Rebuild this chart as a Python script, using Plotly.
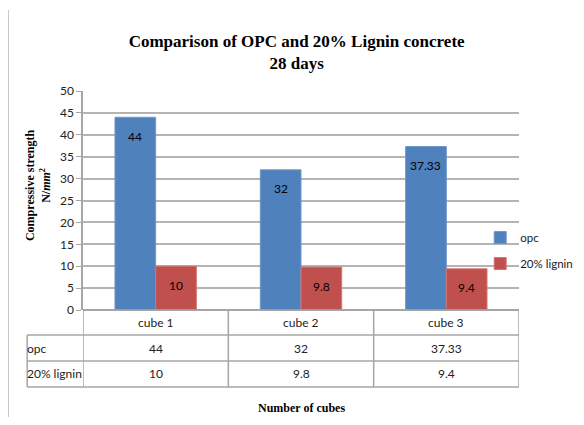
import plotly.graph_objects as go

categories = ["cube 1", "cube 2", "cube 3"]
opc = [44, 32, 37.33]
lignin = [10, 9.8, 9.4]
series_names = ["opc", "20% lignin"]
y_ticks = [0, 5, 10, 15, 20, 25, 30, 35, 40, 45, 50]

SANS = "Lato, sans-serif"
SERIF = "Liberation Serif, Times New Roman, serif"
GRID = "#b4b4b4"
TABLE = "#a6a6a6"
TXT = "#222222"

fig = go.Figure()
fig.add_trace(go.Bar(x=categories, y=opc, name=series_names[0],
                     marker=dict(color="#4f81bd", line=dict(color="#6f97cc", width=1)),
                     legendgroup="a"))
fig.add_trace(go.Bar(x=categories, y=lignin, name=series_names[1],
                     marker=dict(color="#c0504d", line=dict(color="#d27572", width=1)),
                     legendgroup="b"))

annotations = []
# value labels just below the top of each bar
for vals, shift in [(opc, -20.5), (lignin, 20.5)]:
    for c, v in zip(categories, vals):
        annotations.append(dict(x=c, y=v, xref="x", yref="y", text=f"{v:g}", showarrow=False,
                                xshift=shift, yshift=-19, yanchor="middle",
                                font=dict(family=SANS, size=12, color="black")))

# data table under the plot (rows: header, opc, 20% lignin)
row_y = [-0.057, -0.174, -0.292]
row_edges = [0, -0.114, -0.233, -0.352]
label_left = -0.128

for i, c in enumerate(categories):
    for yy, txt in [(row_y[0], c), (row_y[1], f"{opc[i]:g}"), (row_y[2], f"{lignin[i]:g}")]:
        annotations.append(dict(x=c, y=yy, xref="x", yref="paper", text=txt, showarrow=False,
                                yanchor="middle", font=dict(family=SANS, size=12, color=TXT)))
for name, yy in zip(series_names, row_y[1:]):
    annotations.append(dict(x=label_left - 0.004, y=yy, xref="paper", yref="paper", text=name,
                            xanchor="left", yanchor="middle", showarrow=False,
                            font=dict(family=SANS, size=12, color=TXT)))
annotations.append(dict(x=0.5, y=-0.447, xref="paper", yref="paper", text="<b>Number of cubes</b>",
                        showarrow=False, yanchor="middle",
                        font=dict(family=SERIF, size=12, color="black")))
annotations.append(dict(x=-0.103, y=0.571, xref="paper", yref="paper", textangle=-90,
                        text="<b>Compressive strength</b><br><b>N/<i>mm</i><sup>2</sup></b>",
                        showarrow=False, xanchor="center", yanchor="middle",
                        font=dict(family=SERIF, size=12, color="black")))

shapes = []
# horizontal table lines
for k, yy in enumerate(row_edges):
    x0 = 0 if k == 0 else label_left
    shapes.append(dict(type="line", xref="paper", yref="paper", x0=x0, x1=1, y0=yy, y1=yy,
                       line=dict(color=TABLE, width=1.5)))
# vertical table lines at category boundaries
for xb in [-0.5, 0.5, 1.5, 2.5]:
    shapes.append(dict(type="line", xref="x", yref="paper", x0=xb, x1=xb, y0=0, y1=row_edges[-1],
                       line=dict(color=TABLE, width=1.5)))
shapes.append(dict(type="line", xref="paper", yref="paper", x0=label_left, x1=label_left,
                   y0=row_edges[1], y1=row_edges[-1], line=dict(color=TABLE, width=1.5)))
# outer frame line on the left
shapes.append(dict(type="line", xref="paper", yref="paper", x0=-0.172, x1=-0.172, y0=1.37, y1=-0.53,
                   line=dict(color="#c8c8c8", width=2)))

# the page body adds an 8px offset, so the figure is trimmed to fit the window
fig.update_layout(
    width=576, height=409,
    margin=dict(l=75, r=65, t=83, b=107, autoexpand=False),
    paper_bgcolor="white", plot_bgcolor="white",
    title=dict(text="<b>Comparison of OPC and 20% Lignin concrete<br>28 days</b>",
               x=0.49, xref="paper", xanchor="center", y=0.905, yanchor="middle",
               font=dict(family=SERIF, size=17, color="black")),
    barmode="group", bargap=0.44, bargroupgap=0,
    showlegend=True,
    legend=dict(x=0.911, y=0.397, xanchor="left", yanchor="top", traceorder="grouped",
                tracegroupgap=7, font=dict(family=SANS, size=11.5, color=TXT),
                itemwidth=30, bgcolor="rgba(0,0,0,0)"),
    annotations=annotations, shapes=shapes,
)
fig.update_xaxes(range=[-0.5, 2.5], showticklabels=False, showgrid=False, ticks="",
                 showline=False, zeroline=False)
fig.update_yaxes(range=[0, 50], tickvals=y_ticks, showgrid=True, gridcolor=GRID, gridwidth=1.5,
                 zeroline=True, zerolinecolor=TABLE, zerolinewidth=1.5,
                 showline=True, linecolor=TABLE, linewidth=1.5,
                 ticks="outside", ticklen=5, tickcolor=TABLE,
                 tickfont=dict(family=SANS, size=12, color=TXT),
                 automargin=False)

fig.write_html("out.html")
